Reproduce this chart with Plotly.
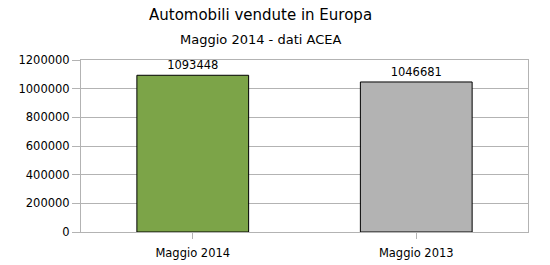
import plotly.graph_objects as go

categories = ["Maggio 2014", "Maggio 2013"]
values = [1093448, 1046681]
bar_colors = ["#7ca448", "#b3b3b3"]
y_ticks = [0, 200000, 400000, 600000, 800000, 1000000, 1200000]

FONT = "DejaVu Sans"
GRID = "#b3b3b3"

L, R, T, B = 81, 22, 60, 33
W, H = 550, 265
plot_w = W - L - R
plot_h = H - T - B

fig = go.Figure(go.Bar(
    x=categories,
    y=values,
    marker=dict(color=bar_colors, line=dict(color="#000000", width=1)),
    text=[str(v) for v in values],
    textposition="outside",
    textfont=dict(family=FONT, size=11.5, color="#000000"),
    cliponaxis=False,
    width=0.5,
))

title_x = (260 - L) / plot_w
fig.update_layout(
    width=W, height=H,
    margin=dict(l=L, r=R, t=T, b=B, autoexpand=False),
    paper_bgcolor="white", plot_bgcolor="white",
    showlegend=False,
    font=dict(family=FONT, size=11.5, color="#000000"),
    annotations=[
        dict(text="Automobili vendute in Europa", x=title_x, y=1 + (T - 15) / plot_h,
             xref="paper", yref="paper", xanchor="center", yanchor="middle",
             showarrow=False, font=dict(family=FONT, size=15, color="#000000")),
        dict(text="Maggio 2014 - dati ACEA", x=title_x, y=1 + (T - 39) / plot_h,
             xref="paper", yref="paper", xanchor="center", yanchor="middle",
             showarrow=False, font=dict(family=FONT, size=13, color="#000000")),
    ],
)

fig.update_yaxes(
    range=[0, 1200000], tickvals=y_ticks, ticktext=[str(t) for t in y_ticks],
    showgrid=True, gridcolor=GRID, gridwidth=1,
    ticks="outside", ticklen=8, tickcolor=GRID,
    showline=True, linecolor=GRID, mirror=True, zeroline=False,
    automargin=False,
    tickfont=dict(family=FONT, size=11.5, color="#000000"),
)
fig.update_xaxes(
    ticks="outside", ticklen=6, tickcolor=GRID,
    showline=True, linecolor=GRID, mirror=True,
    automargin=False, ticklabelstandoff=4,
    tickfont=dict(family=FONT, size=11.5, color="#000000"),
)

fig.write_html("out.html")
